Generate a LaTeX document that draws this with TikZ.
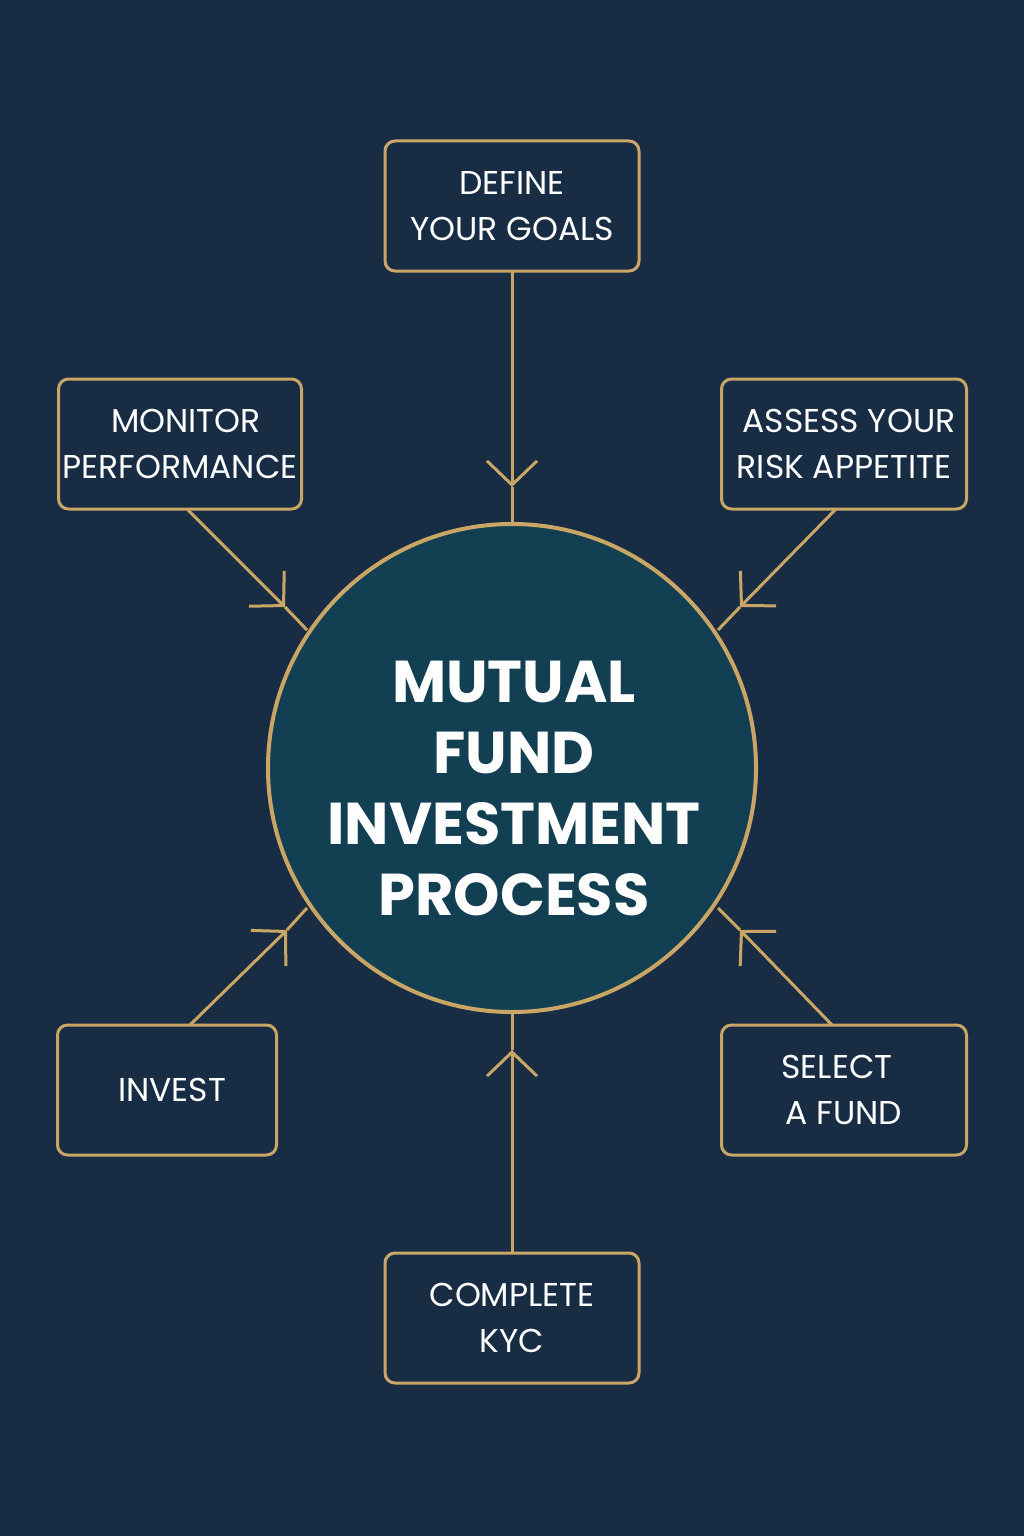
\documentclass[tikz,border=0pt]{standalone}
\usepackage{fontspec}
\setmainfont{Poppins}
\usetikzlibrary{arrows.meta}
\definecolor{bg}{HTML}{182D44}
\definecolor{circ}{HTML}{133F52}
\definecolor{gold}{HTML}{C9A665}
\begin{document}
\begin{tikzpicture}[x=1pt,y=-1pt,
  box/.style={draw=gold,line width=3pt,rounded corners=10pt,text=white,align=center,font=\fontsize{33}{46}\selectfont,inner sep=0pt},
  conn/.style={draw=gold,line width=3pt},
  tip/.style={conn,-{Straight Barb[length=24pt,width=50pt,line width=3pt]}}]
\fill[bg] (0,0) rectangle (1024,1536);
\useasboundingbox (0,0) rectangle (1024,1536);
\node[circle,draw=gold,fill=circ,line width=4pt,minimum size=488pt] (c) at (512,768) {};
\node[text=white,align=center,font=\fontsize{59}{71}\selectfont\bfseries] (ct) at (514,788) {MUTUAL\\FUND\\INVESTMENT\\PROCESS};
\node[box,minimum width=254pt,minimum height=130pt] (def) at (512,206) {DEFINE\\YOUR GOALS};
\node[box,minimum width=243pt,minimum height=130pt] (mon) at (180,444) {\hspace*{12pt}MONITOR\\PERFORMANCE};
\node[box,minimum width=245pt,minimum height=130pt] (ass) at (844,444) {\hspace*{10pt}ASSESS YOUR\\RISK APPETITE};
\node[box,minimum width=219pt,minimum height=130pt] (inv) at (167,1090) {\hspace*{10pt}INVEST};
\node[box,minimum width=245pt,minimum height=130pt] (sel) at (844,1090) {\hspace*{-14pt}SELECT\\A FUND};
\node[box,minimum width=254pt,minimum height=130pt] (kyc) at (512,1318) {COMPLETE\\KYC};
\coordinate (d1) at (512,271); \coordinate (dt) at (512,487);
\coordinate (m1) at (188,510); \coordinate (mt) at (285,607); \coordinate (m2) at (307,630);
\coordinate (a1) at (835,510); \coordinate (at1) at (740,607); \coordinate (a2) at (718,630);
\coordinate (i1) at (190,1025); \coordinate (it) at (287,930); \coordinate (i2) at (307,908);
\coordinate (s1) at (832,1025); \coordinate (st) at (740,930); \coordinate (s2) at (718,908);
\coordinate (k1) at (512,1253); \coordinate (kt) at (512,1050);
\draw[tip] (d1) -- (dt); \draw[conn] (dt) -- (c.north);
\draw[tip] (m1) -- (mt); \draw[conn] (mt) -- (m2);
\draw[tip] (a1) -- (at1); \draw[conn] (at1) -- (a2);
\draw[tip] (i1) -- (it); \draw[conn] (it) -- (i2);
\draw[tip] (s1) -- (st); \draw[conn] (st) -- (s2);
\draw[tip] (k1) -- (kt); \draw[conn] (kt) -- (c.south);
\end{tikzpicture}
\end{document}
